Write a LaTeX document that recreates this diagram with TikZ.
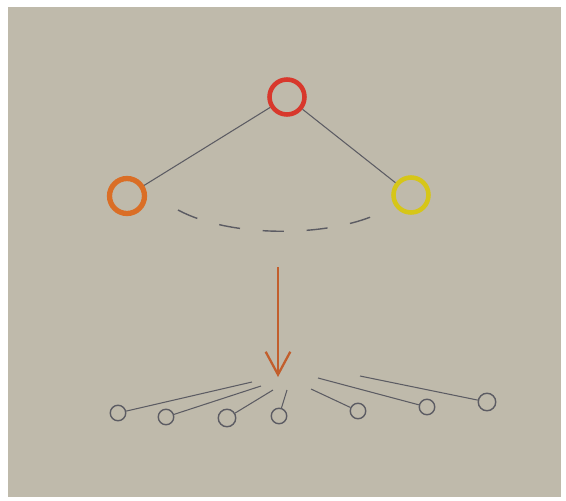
\documentclass[tikz,border=0pt]{standalone}
\usepackage{xcolor}
\definecolor{paper}{HTML}{BFBAAB}
\definecolor{pencil}{HTML}{5C5C63}
\definecolor{crayonred}{HTML}{D8382C}
\definecolor{crayonorange}{HTML}{DA6E26}
\definecolor{crayonyellow}{HTML}{D6C618}
\definecolor{rust}{HTML}{C25E2C}
\usetikzlibrary{arrows.meta}

\begin{document}
\begin{tikzpicture}[>={Straight Barb[length=13pt,width=14pt]}, x=0.02cm, y=-0.02cm,
  bigdot/.style={circle, draw, inner sep=0pt, line width=2.6pt, minimum size=0.7cm},
  leaf/.style={circle, draw=pencil, inner sep=0pt, line width=0.8pt, minimum size=0.31cm},
  stroke/.style={pencil, line width=0.6pt}]

  \useasboundingbox (0,0) rectangle (566,501);
  \fill[white] (0,0) rectangle (566,501);
  \fill[paper] (8,7) rectangle (561,497);

  \node[bigdot, draw=crayonred] (root) at (287,97) {};
  \node[bigdot, draw=crayonorange, line width=3pt] (left) at (127,196) {};
  \node[bigdot, draw=crayonyellow] (right) at (411,195) {};

  \draw[stroke] (root) -- (left);
  \draw[stroke] (root) -- (right);

  \coordinate (gapL) at (178,210);
  \coordinate (gapR) at (382,212);
  \draw[stroke, line width=0.8pt, dash pattern=on 12pt off 13pt]
    (gapL) .. controls (230,238) and (330,238) .. (gapR);

  \coordinate (tail) at (278,267);
  \coordinate (hub) at (278,377);
  \draw[->, rust, line width=1.3pt] (tail) -- (hub);

  \node[leaf] (c1) at (118,413) {};
  \node[leaf] (c2) at (166,417) {};
  \node[leaf, minimum size=0.35cm] (c3) at (227,418) {};
  \node[leaf] (c4) at (279,416) {};
  \node[leaf] (c5) at (358,411) {};
  \node[leaf] (c6) at (427,407) {};
  \node[leaf, minimum size=0.35cm] (c7) at (487,402) {};

  \coordinate (f1) at (252,382);
  \coordinate (f2) at (261,386);
  \coordinate (f3) at (273,390);
  \coordinate (f4) at (287,390);
  \coordinate (f5) at (311,389);
  \coordinate (f6) at (318,378);
  \coordinate (f7) at (360,376);

  \draw[stroke] (c1) -- (f1);
  \draw[stroke] (c2) -- (f2);
  \draw[stroke] (c3) -- (f3);
  \draw[stroke] (c4) -- (f4);
  \draw[stroke] (c5) -- (f5);
  \draw[stroke] (c6) -- (f6);
  \draw[stroke] (c7) -- (f7);

\end{tikzpicture}
\end{document}
